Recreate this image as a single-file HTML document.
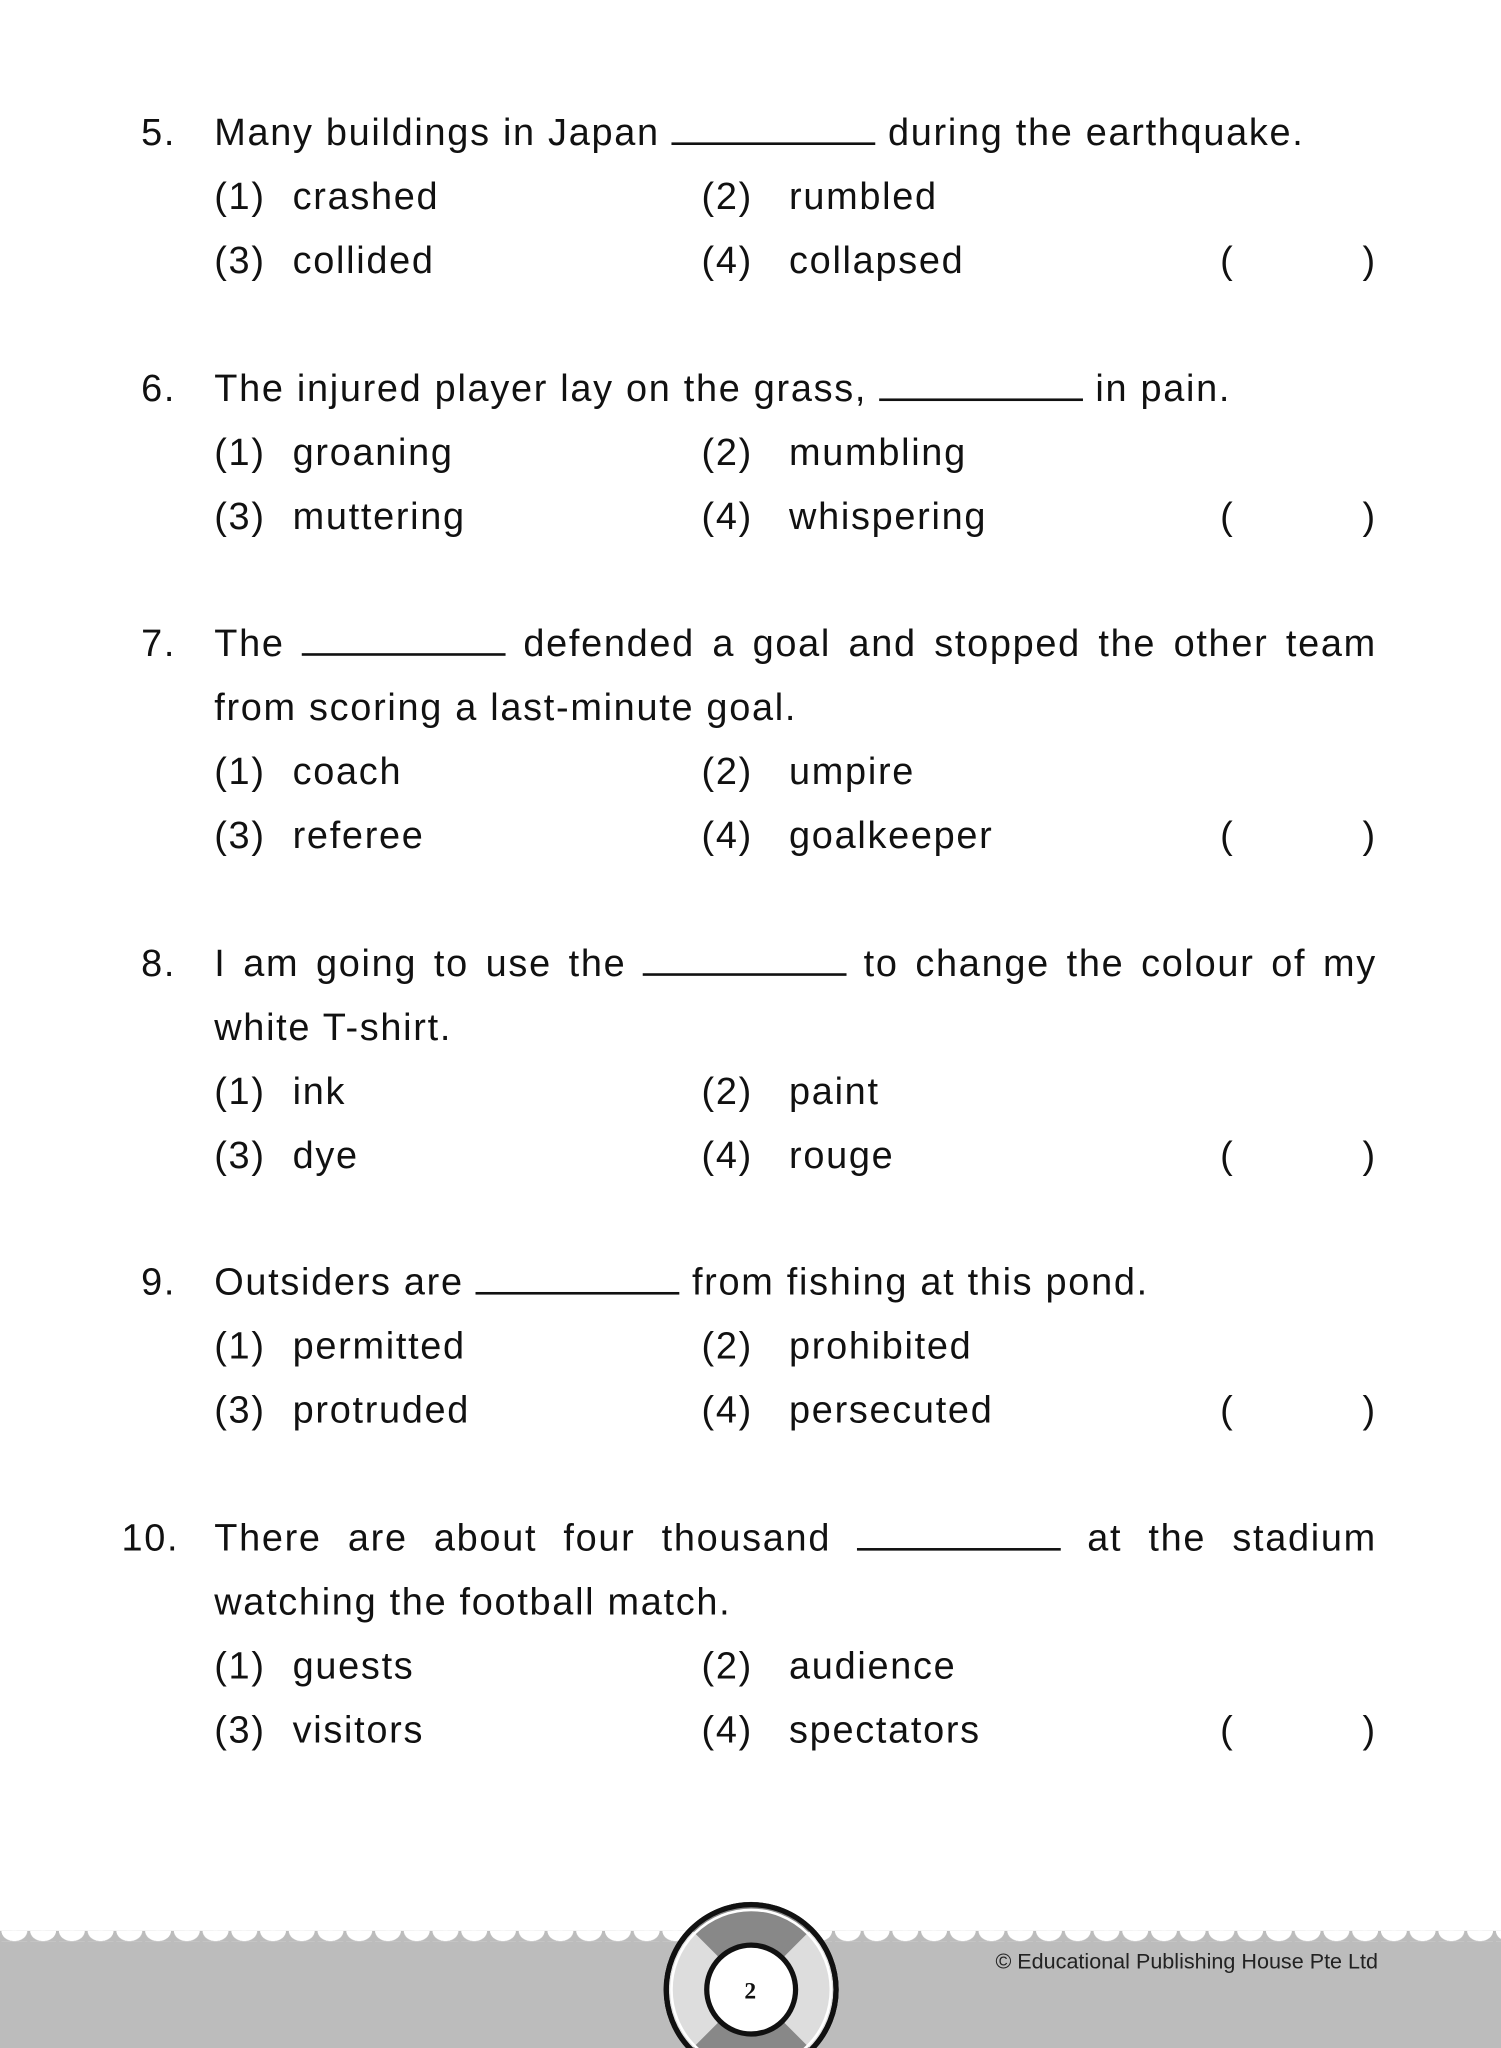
<!DOCTYPE html>
<html><head><meta charset="utf-8"><style>
html,body{margin:0;padding:0;background:#fff;}
body{width:1501px;height:2048px;overflow:hidden;position:relative;}
#w{position:absolute;left:0;top:0;width:1149px;height:1568px;transform:scale(1.30635);transform-origin:0 0;font-family:"Liberation Sans",sans-serif;font-size:29px;letter-spacing:1.3px;color:#111;}
.t{position:absolute;white-space:nowrap;line-height:34px;}
.b{display:inline-block;width:156px;border-bottom:2.5px solid #111;height:22px;vertical-align:baseline;}
.j{position:absolute;left:164px;width:890px;text-align:justify;text-align-last:justify;line-height:34px;white-space:nowrap;}
#foot{position:absolute;left:0;top:1478px;width:1149px;height:90px;background:#bcbcbc;}
#wave{position:absolute;left:0;top:1478px;width:1149px;height:8px;background:radial-gradient(ellipse 10px 8px at 11px 0px,#fff 98%,transparent 100%);background-size:22px 8px;background-repeat:repeat-x;}
</style></head><body><div id="w">

<div class="t" style="left:108px;top:85px">5.</div>
<div class="t" style="left:164px;top:85px">Many buildings in Japan <span class="b"></span> during the earthquake.</div>
<div class="t" style="left:164px;top:134px">(1)</div><div class="t" style="left:224px;top:134px">crashed</div>
<div class="t" style="left:537px;top:134px">(2)</div><div class="t" style="left:604px;top:134px">rumbled</div>
<div class="t" style="left:164px;top:183px">(3)</div><div class="t" style="left:224px;top:183px">collided</div>
<div class="t" style="left:537px;top:183px">(4)</div><div class="t" style="left:604px;top:183px">collapsed</div>
<div class="t" style="left:934px;top:183px">(</div><div class="t" style="left:1043px;top:183px">)</div>

<div class="t" style="left:108px;top:281px">6.</div>
<div class="t" style="left:164px;top:281px">The injured player lay on the grass, <span class="b"></span> in pain.</div>
<div class="t" style="left:164px;top:330px">(1)</div><div class="t" style="left:224px;top:330px">groaning</div>
<div class="t" style="left:537px;top:330px">(2)</div><div class="t" style="left:604px;top:330px">mumbling</div>
<div class="t" style="left:164px;top:379px">(3)</div><div class="t" style="left:224px;top:379px">muttering</div>
<div class="t" style="left:537px;top:379px">(4)</div><div class="t" style="left:604px;top:379px">whispering</div>
<div class="t" style="left:934px;top:379px">(</div><div class="t" style="left:1043px;top:379px">)</div>

<div class="t" style="left:108px;top:476px">7.</div>
<div class="j" style="top:476px">The <span class="b"></span> defended a goal and stopped the other team</div>
<div class="t" style="left:164px;top:525px">from scoring a last-minute goal.</div>
<div class="t" style="left:164px;top:574px">(1)</div><div class="t" style="left:224px;top:574px">coach</div>
<div class="t" style="left:537px;top:574px">(2)</div><div class="t" style="left:604px;top:574px">umpire</div>
<div class="t" style="left:164px;top:623px">(3)</div><div class="t" style="left:224px;top:623px">referee</div>
<div class="t" style="left:537px;top:623px">(4)</div><div class="t" style="left:604px;top:623px">goalkeeper</div>
<div class="t" style="left:934px;top:623px">(</div><div class="t" style="left:1043px;top:623px">)</div>

<div class="t" style="left:108px;top:721px">8.</div>
<div class="j" style="top:721px">I am going to use the <span class="b"></span> to change the colour of my</div>
<div class="t" style="left:164px;top:770px">white T-shirt.</div>
<div class="t" style="left:164px;top:819px">(1)</div><div class="t" style="left:224px;top:819px">ink</div>
<div class="t" style="left:537px;top:819px">(2)</div><div class="t" style="left:604px;top:819px">paint</div>
<div class="t" style="left:164px;top:868px">(3)</div><div class="t" style="left:224px;top:868px">dye</div>
<div class="t" style="left:537px;top:868px">(4)</div><div class="t" style="left:604px;top:868px">rouge</div>
<div class="t" style="left:934px;top:868px">(</div><div class="t" style="left:1043px;top:868px">)</div>

<div class="t" style="left:108px;top:965px">9.</div>
<div class="t" style="left:164px;top:965px">Outsiders are <span class="b"></span> from fishing at this pond.</div>
<div class="t" style="left:164px;top:1014px">(1)</div><div class="t" style="left:224px;top:1014px">permitted</div>
<div class="t" style="left:537px;top:1014px">(2)</div><div class="t" style="left:604px;top:1014px">prohibited</div>
<div class="t" style="left:164px;top:1063px">(3)</div><div class="t" style="left:224px;top:1063px">protruded</div>
<div class="t" style="left:537px;top:1063px">(4)</div><div class="t" style="left:604px;top:1063px">persecuted</div>
<div class="t" style="left:934px;top:1063px">(</div><div class="t" style="left:1043px;top:1063px">)</div>

<div class="t" style="left:93px;top:1161px">10.</div>
<div class="j" style="top:1161px">There are about four thousand <span class="b"></span> at the stadium</div>
<div class="t" style="left:164px;top:1210px">watching the football match.</div>
<div class="t" style="left:164px;top:1259px">(1)</div><div class="t" style="left:224px;top:1259px">guests</div>
<div class="t" style="left:537px;top:1259px">(2)</div><div class="t" style="left:604px;top:1259px">audience</div>
<div class="t" style="left:164px;top:1308px">(3)</div><div class="t" style="left:224px;top:1308px">visitors</div>
<div class="t" style="left:537px;top:1308px">(4)</div><div class="t" style="left:604px;top:1308px">spectators</div>
<div class="t" style="left:934px;top:1308px">(</div><div class="t" style="left:1043px;top:1308px">)</div>

<div id="foot"></div>
<div id="wave"></div>
<div class="t" style="left:762px;top:1490px;font-size:16.5px;letter-spacing:0;line-height:24px;color:#222">© Educational Publishing House Pte Ltd</div>
<svg style="position:absolute;left:500px;top:1450px" width="150" height="118" viewBox="0 0 150 118">
  <circle cx="75" cy="73" r="65" fill="#ddd" stroke="#111" stroke-width="4"/>
  <path d="M75 73 L28 26 A65 65 0 0 1 122 26 Z" fill="#888"/>
  <path d="M75 73 L28 120 A65 65 0 0 0 122 120 Z" fill="#888"/>
  <circle cx="75" cy="73" r="65" fill="none" stroke="#111" stroke-width="4"/>
  <circle cx="75" cy="73" r="61" fill="none" stroke="#fff" stroke-width="2"/>
  <circle cx="75" cy="73" r="34" fill="#fff" stroke="#111" stroke-width="4"/>
  <text x="75" y="80" text-anchor="middle" font-family="Liberation Serif,serif" font-weight="bold" font-size="18" fill="#111">2</text>
</svg>
</div></body></html>
